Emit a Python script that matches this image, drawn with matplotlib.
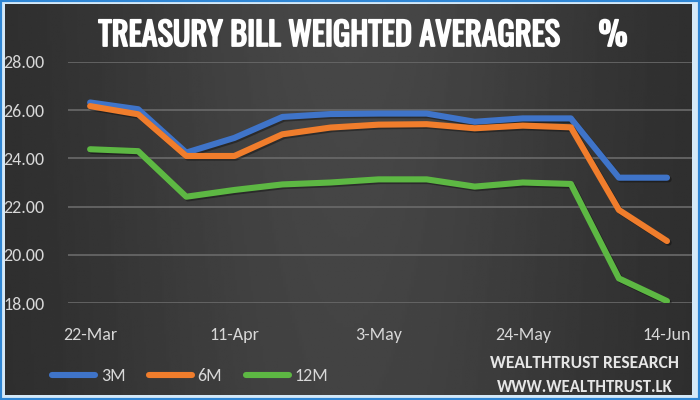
import matplotlib
matplotlib.use("Agg")
import matplotlib.pyplot as plt
import numpy as np
from matplotlib.patches import Rectangle
import matplotlib.patheffects as pe

dates = ["22-Mar", "", "", "11-Apr", "", "", "3-May", "", "", "24-May", "", "", "14-Jun"]
tick_labels = ["22-Mar", "11-Apr", "3-May", "24-May", "14-Jun"]
tick_idx = [0, 3, 6, 9, 12]
m3 = [26.32, 26.04, 24.24, 24.85, 25.72, 25.84, 25.86, 25.86, 25.52, 25.66, 25.66, 23.20, 23.20]
m6 = [26.17, 25.83, 24.10, 24.10, 25.00, 25.28, 25.40, 25.42, 25.25, 25.36, 25.29, 21.86, 20.57]
m12 = [24.38, 24.30, 22.41, 22.69, 22.92, 23.00, 23.13, 23.13, 22.83, 23.00, 22.94, 19.02, 18.08]
yticks = [18, 20, 22, 24, 26, 28]

BODY = ['Carlito', 'DejaVu Sans']
TITLE = ['Oswald', 'Roboto Condensed', 'DejaVu Sans']
W, H = 700, 400

fig = plt.figure(figsize=(7, 4), dpi=100)
fig.patch.set_facecolor('#d4e9f8')

# background gradient panel
bg = fig.add_axes([5/W, 5/H, (692-5)/W, (396-5)/H], zorder=-10)
xg = np.linspace(0, 1, 300)
yg = np.linspace(0, 1, 100)
X, Y = np.meshgrid(xg, yg)
grad = 0.165 + 0.115 * np.exp(-((X - 0.5) / 0.38) ** 2) * (0.85 + 0.15 * Y)
bg.imshow(grad, cmap='gray', vmin=0, vmax=1, aspect='auto', extent=[0, 1, 0, 1], origin='lower')
bg.set_xlim(0, 1); bg.set_ylim(0, 1); bg.axis('off')

ax = fig.add_axes([68/W, 97/H, (692-68)/W, (303-62)/H])
ax.set_facecolor('none')
x = np.arange(len(dates))
shadow = [pe.SimpleLineShadow(offset=(1.2, -1.2), shadow_color='black', alpha=0.35), pe.Normal()]
kw = dict(lw=4.4, solid_capstyle='round', solid_joinstyle='round', path_effects=shadow)
ax.plot(x, m3, color='#3f74c9', label='3M', zorder=3, **kw)
ax.plot(x, m6, color='#f07d2c', label='6M', zorder=4, **kw)
ax.plot(x, m12, color='#5db843', label='12M', zorder=3, **kw)

ax.set_xlim(-0.46, 12.52)
ax.set_ylim(18, 28)
ax.set_yticks(yticks)
ax.set_yticklabels([f"{v:.2f}" for v in yticks], fontfamily=BODY, fontsize=13, color='#d8d8d8')
ax.set_xticks(tick_idx)
ax.set_xticklabels(tick_labels, fontfamily=BODY, fontsize=13, color='#d8d8d8')
ax.tick_params(axis='y', length=0, pad=17)
ax.tick_params(axis='x', length=0, pad=17)
ax.grid(axis='y', color='#6a6a6a', lw=1.2)
ax.set_axisbelow(True)
for s in ax.spines.values():
    s.set_visible(False)

bold = [pe.withStroke(linewidth=1.3, foreground='white')]
t1 = fig.text(329/W, 1 - 36/H, "TREASURY BILL WEIGHTED AVERAGRES", ha='center', va='center',
              fontfamily=TITLE, fontsize=24, fontweight='bold', color='white', path_effects=bold)
t2 = fig.text(613/W, 1 - 36/H, "%", ha='center', va='center',
              fontfamily=TITLE, fontsize=24, fontweight='bold', color='white', path_effects=bold)

leg = fig.legend(handles=ax.get_lines(), loc='center left', bbox_to_anchor=(52/W, 1 - 376/H),
                 ncol=3, frameon=False, prop={'family': BODY, 'size': 13}, labelcolor='#d8d8d8',
                 handlelength=2.4, handletextpad=0.3, columnspacing=1.3,
                 borderpad=0, borderaxespad=0)
for h in leg.get_lines():
    h.set_linewidth(4.4)
    h.set_path_effects([])
    h.set_solid_capstyle('round')

w1 = fig.text(585/W, 1 - 363/H, "WEALTHTRUST RESEARCH", ha='center', va='center',
              fontfamily=BODY, fontsize=13, fontweight='bold', color='#e6e6e6')
w2 = fig.text(585/W, 1 - 387/H, "WWW.WEALTHTRUST.LK", ha='center', va='center',
              fontfamily=BODY, fontsize=13, fontweight='bold', color='#e6e6e6')

# fit widths of title and watermark texts to the reference
fig.canvas.draw()
r = fig.canvas.get_renderer()
for t, target in [(t1, 462), (w1, 188), (w2, 176)]:
    wpx = t.get_window_extent(r).width
    t.set_fontsize(t.get_fontsize() * target / wpx)
t2.set_fontsize(t1.get_fontsize())

fig.patches.append(Rectangle((0, 0), 1, 1, transform=fig.transFigure,
                             fill=False, edgecolor='#2f86d4', lw=3, zorder=20))

fig.savefig('out.png', dpi=100, facecolor=fig.get_facecolor())
